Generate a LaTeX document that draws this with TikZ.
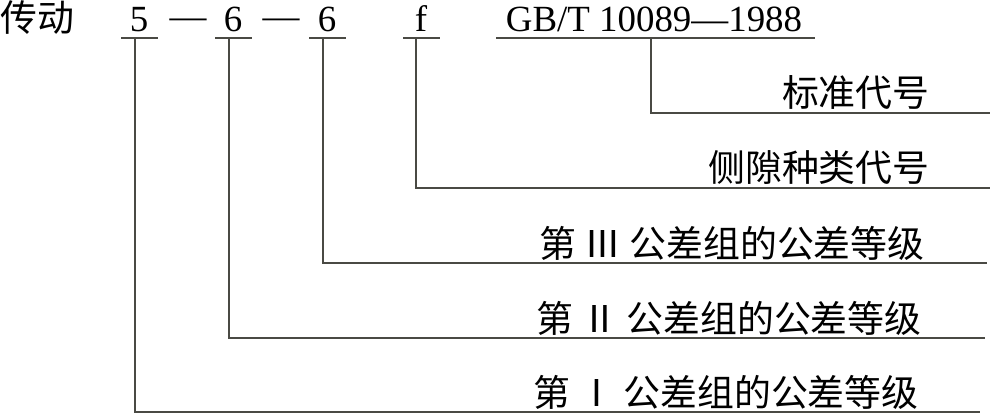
\documentclass[tikz,border=0pt]{standalone}
\usepackage{fontspec}
\setmainfont{Liberation Serif}
\newfontfamily\zhfont{Noto Sans CJK SC}
\usetikzlibrary{positioning,calc}
\definecolor{leadgray}{HTML}{4A4A44}

\begin{document}
\begin{tikzpicture}[x=0.02cm, y=-0.02cm,
  every node/.style={inner sep=0pt, font=\fontsize{21}{25}\selectfont},
  code/.style={anchor=base},
  zh/.style={font=\fontsize{21}{25}\selectfont\zhfont},
  tag/.style={zh, anchor=base east},
  lead/.style={leadgray, line width=0.9pt}]
\useasboundingbox (0,0) rectangle (990,415);

% Designation
\node[zh, anchor=base west] (title) at (0,32) {传动};
\node[code] (c1) at (139,32) {5};
\node[code] (s1) at (188,29) {—};
\node[code] (c2) at (233,32) {6};
\node[code] (s2) at (281,29) {—};
\node[code] (c3) at (327,32) {6};
\node[code] (c4) at (421,32) {f};
\node[code] (c5) at (654,32) {GB/T 10089—1988};

% Underlines
\foreach \a/\b in {121/158, 215/252, 309/346, 403/440, 496/815}
  \draw[lead] (\a,38) -- (\b,38);

% Meanings
\node[tag] (t5) at (930,107) {标准代号};
\node[tag] (t4) at (930,182) {侧隙种类代号};
\node[tag] (t3) at (925,257) {第 Ⅲ 公差组的公差等级};
\node[tag] (t2) at (922,332) {第 Ⅱ 公差组的公差等级};
\node[tag] (t1) at (919,406) {第 Ⅰ 公差组的公差等级};

% Leader lines
\coordinate (j5) at (651,38);  \coordinate (e5) at (990,113);
\coordinate (j4) at (416,38);  \coordinate (e4) at (990,188);
\coordinate (j3) at (323,38);  \coordinate (e3) at (987,263);
\coordinate (j2) at (229,38);  \coordinate (e2) at (985,338);
\coordinate (j1) at (135,38);  \coordinate (e1) at (980,412);
\foreach \i in {1,...,5}
  \draw[lead] (j\i) |- (e\i);
\end{tikzpicture}
\end{document}
